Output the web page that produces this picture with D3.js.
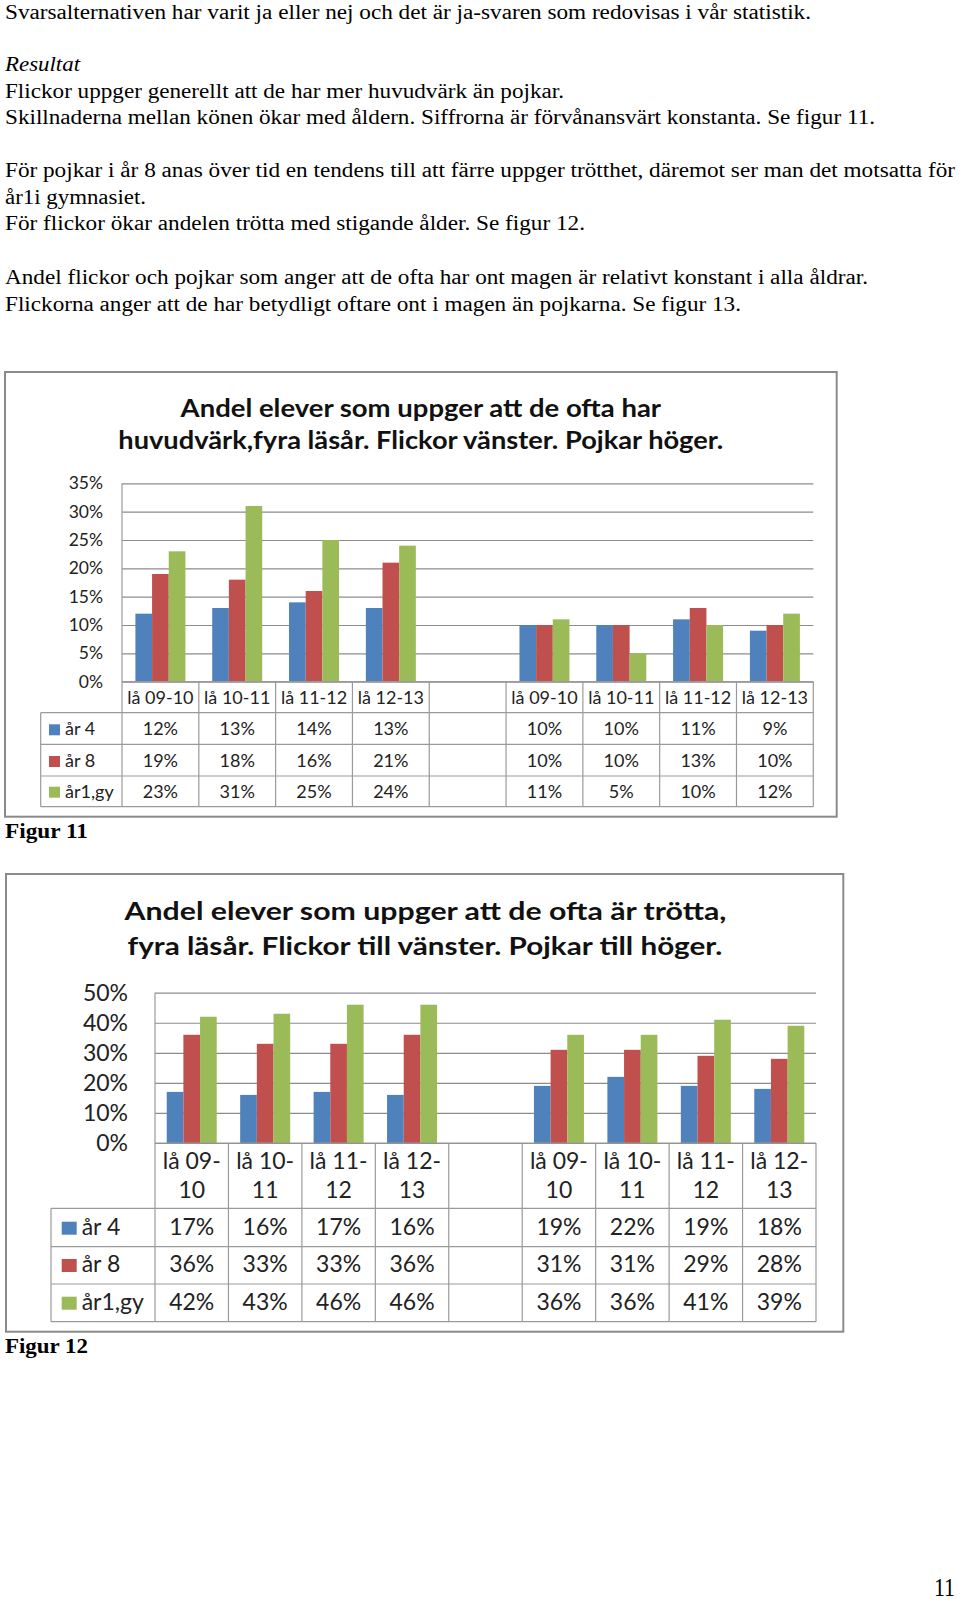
<!DOCTYPE html>
<html><head><meta charset="utf-8">
<script src="https://cdn.jsdelivr.net/npm/d3@7"></script>
<style>body{margin:0;background:#fff}svg{display:block}</style>
</head><body>
<svg id="page" width="960" height="1600"></svg>
<script>
// ---------- DATA ----------
const categories = ["lå 09-10","lå 10-11","lå 11-12","lå 12-13","","lå 09-10","lå 10-11","lå 11-12","lå 12-13"];
const seriesNames = ["år 4","år 8","år1,gy"];
const seriesColors = ["#4F81BD","#C0504D","#9BBB59"];

const fig11Title = ["Andel elever som uppger att de ofta har","huvudvärk,fyra läsår.  Flickor vänster. Pojkar höger."];
const fig11Ar4  = [12,13,14,13,null,10,10,11,9];
const fig11Ar8  = [19,18,16,21,null,10,10,13,10];
const fig11Ar1gy= [23,31,25,24,null,11,5,10,12];
const fig11Ticks = [0,5,10,15,20,25,30,35];

const fig12Title = ["Andel elever som uppger att de ofta är trötta,","fyra läsår. Flickor till vänster. Pojkar till höger."];
const fig12Ar4  = [17,16,17,16,null,19,22,19,18];
const fig12Ar8  = [36,33,33,36,null,31,31,29,28];
const fig12Ar1gy= [42,43,46,46,null,36,36,41,39];
const fig12Ticks = [0,10,20,30,40,50];

const bodyLines = [
  "Svarsalternativen har varit ja eller nej och det är ja-svaren som redovisas i vår statistik.",
  "Resultat",
  "Flickor uppger generellt att de har mer huvudvärk än pojkar.",
  "Skillnaderna mellan könen ökar med åldern. Siffrorna är förvånansvärt konstanta. Se figur 11.",
  "För pojkar i år 8 anas över tid en tendens till att färre uppger trötthet, däremot ser man det motsatta för",
  "år1i gymnasiet.",
  "För flickor ökar andelen trötta med stigande ålder. Se figur 12.",
  "Andel flickor och pojkar som anger att de ofta har ont magen är relativt konstant i alla åldrar.",
  "Flickorna anger att de har betydligt oftare ont i magen än pojkarna. Se figur 13."
];

// ---------- LAYOUT ----------
const svg = d3.select("#page");
const bodyLayout = [[19,811],[71,80,"italic"],[98,564],[124,875],[177,955],[204,146],[230,585],[284,868],[311,741]];
bodyLines.forEach((t,i)=>{
  const [by, ex, st] = bodyLayout[i];
  svg.append("text").attr("x",5).attr("y",by)
    .attr("font-family","'Liberation Serif', 'Times New Roman', serif")
    .attr("font-size",20).attr("font-style", st||"normal").attr("fill","#000")
    .attr("textLength", ex-5).attr("lengthAdjust","spacingAndGlyphs").text(t);
});

function drawChart(cfg){
  const g = svg.append("g");
  const [fx0,fy0,fx1,fy1] = cfg.frame;
  g.append("rect").attr("x",fx0).attr("y",fy0).attr("width",fx1-fx0).attr("height",fy1-fy0)
    .attr("fill","#fff").attr("stroke","#8a8a8a").attr("stroke-width",2);
  cfg.title.forEach((t,i)=>{
    const [a,b] = cfg.titleX[i];
    g.append("text").attr("x",a).attr("y",cfg.titleY[i])
      .attr("font-family","Lato, sans-serif").attr("font-weight","bold").attr("font-size",cfg.titleFs)
      .attr("fill","#111").attr("textLength",b-a).attr("lengthAdjust","spacingAndGlyphs").text(t);
  });
  const x = d3.scaleBand().domain(d3.range(categories.length)).range([cfg.L,cfg.R]);
  const y = d3.scaleLinear().domain([0, d3.max(cfg.ticks)]).range([cfg.B, cfg.T]);
  const ax = g.append("g").attr("transform",`translate(${cfg.L},0)`)
    .call(d3.axisLeft(y).tickValues(cfg.ticks).tickSize(-(cfg.R-cfg.L)).tickPadding(cfg.pad).tickFormat(d=>d+"%"));
  ax.select(".domain").remove();
  ax.selectAll(".tick line").attr("stroke","#8c8c8c").attr("stroke-width",1.2);
  ax.selectAll(".tick text").attr("font-family","Lato, sans-serif").attr("font-size",cfg.axisFs).attr("fill","#222");

  const groupW = 50;
  const sub = d3.scaleBand().domain(seriesNames).range([0,groupW]);
  cfg.values.forEach((vals,j)=>{
    g.append("g").selectAll("rect").data(vals.map((v,i)=>({v,i})).filter(d=>d.v!=null)).join("rect")
      .attr("x",d=>x(d.i)+(x.bandwidth()-groupW)/2+sub(seriesNames[j]))
      .attr("width",sub.bandwidth())
      .attr("y",d=>y(d.v)).attr("height",d=>y(0)-y(d.v))
      .attr("fill",seriesColors[j]);
  });

  // table
  const lc = "#9a9a9a";
  const tb = cfg.rows[cfg.rows.length-1];
  const line = (x1,y1,x2,y2)=>g.append("line").attr("x1",x1).attr("y1",y1).attr("x2",x2).attr("y2",y2).attr("stroke",lc).attr("stroke-width",1.2);
  line(cfg.L, cfg.T, cfg.L, tb);
  line(cfg.L, y(0), cfg.R, y(0));
  x.domain().forEach(i=>line(x(i)+x.bandwidth(), y(0), x(i)+x.bandwidth(), tb));
  line(cfg.TL, cfg.hdrB, cfg.TL, tb);
  line(cfg.TL, cfg.hdrB, cfg.R, cfg.hdrB);
  cfg.rows.forEach(r=>line(cfg.TL, r, cfg.R, r));

  // headers
  categories.forEach((c,i)=>{
    const cx = x(i)+x.bandwidth()/2;
    const lines = cfg.wrap && c ? [c.split("-")[0]+"-", c.split("-")[1]] : [c];
    lines.forEach((t,k)=>{
      g.append("text").attr("x",cx).attr("y",cfg.hdrY[k]).attr("text-anchor","middle")
        .attr("font-family","Lato, sans-serif").attr("font-size",cfg.fs).attr("fill","#222").text(t);
    });
  });
  // rows
  cfg.values.forEach((vals,j)=>{
    const by = cfg.rows[j]-cfg.rowOff;
    g.append("rect").attr("x",cfg.swX).attr("y",by-cfg.swH).attr("width",cfg.swW).attr("height",cfg.swH).attr("fill",seriesColors[j]);
    g.append("text").attr("x",cfg.lblX).attr("y",by).attr("font-family","Lato, sans-serif").attr("font-size",cfg.fs).attr("fill","#222").text(seriesNames[j]);
    vals.forEach((v,i)=>{
      if(v==null) return;
      g.append("text").attr("x",x(i)+x.bandwidth()/2).attr("y",by).attr("text-anchor","middle")
        .attr("font-family","Lato, sans-serif").attr("font-size",cfg.fs).attr("fill","#222").text(v+"%");
    });
  });
}

drawChart({
  frame:[5,372,836.7,816.7], title:fig11Title, titleX:[[180.6,661.1],[118.3,723.3]], titleY:[416.7,448.5], titleFs:25,
  L:122, R:813.3, T:483.3, B:681.7, ticks:fig11Ticks, pad:19, axisFs:17.5,
  values:[fig11Ar4, fig11Ar8, fig11Ar1gy],
  TL:40.7, hdrB:712.7, rows:[744.3,776,806.7], hdrY:[704], rowOff:9, fs:18, wrap:false,
  swX:49, swW:11, swH:11, lblX:65
});
drawChart({
  frame:[6,874,843.3,1331.7], title:fig12Title, titleX:[[124.5,726.4],[127.5,722.3]], titleY:[920,955], titleFs:25,
  L:155, R:816, T:992.7, B:1143, ticks:fig12Ticks, pad:27, axisFs:23,
  values:[fig12Ar4, fig12Ar8, fig12Ar1gy],
  TL:51, hdrB:1208.3, rows:[1246.7,1284,1321.7], hdrY:[1169,1198], rowOff:12, fs:23, wrap:true,
  swX:61.7, swW:15, swH:13, lblX:81.7
});

svg.append("text").attr("x",5).attr("y",838).attr("font-family","'Liberation Serif', serif").attr("font-weight","bold")
  .attr("font-size",21).attr("textLength",83).attr("lengthAdjust","spacingAndGlyphs").text("Figur 11");
svg.append("text").attr("x",5).attr("y",1353).attr("font-family","'Liberation Serif', serif").attr("font-weight","bold")
  .attr("font-size",21).attr("textLength",83).attr("lengthAdjust","spacingAndGlyphs").text("Figur 12");
svg.append("text").attr("x",934).attr("y",1596).attr("font-family","'Liberation Serif', serif")
  .attr("font-size",25).attr("textLength",21).attr("lengthAdjust","spacingAndGlyphs").text("11");
</script>
</body></html>
